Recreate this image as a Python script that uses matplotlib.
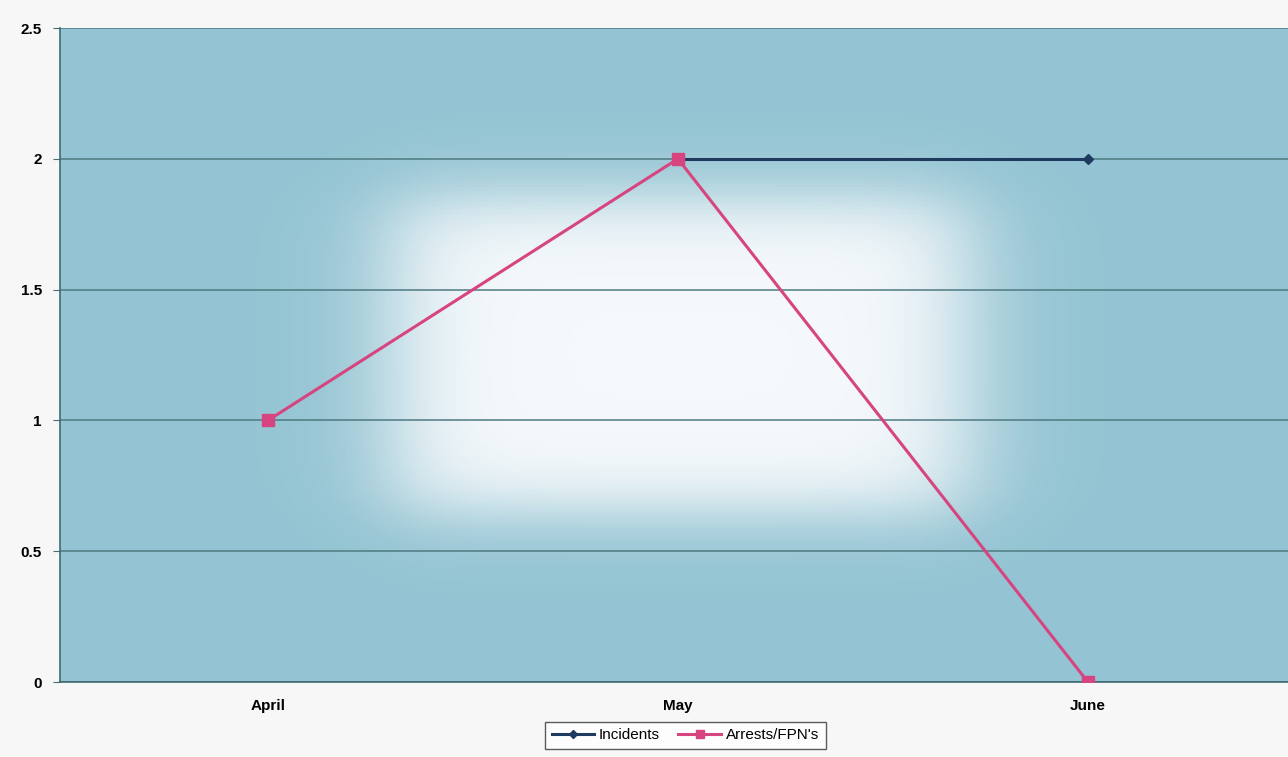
import numpy as np
import matplotlib
matplotlib.use("Agg")
import matplotlib.pyplot as plt
from matplotlib.colors import LinearSegmentedColormap

months = ["April", "May", "June"]
incidents = [np.nan, 2, 2]
arrests = [1, 2, 0]
yticks = [0, 0.5, 1, 1.5, 2, 2.5]
ytick_labels = ["0", "0.5", "1", "1.5", "2", "2.5"]

plt.rcParams['font.family'] = ['Liberation Sans', 'DejaVu Sans']

fig = plt.figure(figsize=(12.88, 7.57), dpi=100)
fig.patch.set_facecolor('#f7f7f8')
ax = fig.add_axes([0.0466, 0.099, 0.9534, 0.864])

# background gradient (blue with white glow in the centre)
ny, nx = 200, 400
xs = np.linspace(0, 1, nx)
ys = np.linspace(0, 1, ny)
def smoothbox(t, a, b, w):
    return 1 / (1 + np.exp(-(t - a) / w)) * 1 / (1 + np.exp((t - b) / w))
gx = smoothbox(xs, 0.27, 0.74, 0.025)
gy = smoothbox(ys, 0.26, 0.74, 0.03)
glow = np.outer(gy, gx)
cmap = LinearSegmentedColormap.from_list('bg', ['#94c4d3', '#f6f9fb'])
ax.imshow(glow, extent=[0, 1, 0, 1], transform=ax.transAxes, cmap=cmap,
          vmin=0, vmax=1, aspect='auto', zorder=0, origin='lower')

x = np.arange(len(months))
ax.plot(x, incidents, color='#1f3a5f', lw=2.2, marker='D', ms=5, zorder=3, label='Incidents')
ax.plot(x, arrests, color='#d6457f', lw=2.2, marker='s', ms=8, zorder=4, label="Arrests/FPN's")

ax.set_xlim(-0.507, 2.488)
ax.set_ylim(0, 2.5)
ax.set_xticks(x)
ax.set_xticklabels(months, fontsize=11, fontweight='bold')
ax.set_yticks(yticks)
ax.set_yticklabels(ytick_labels, fontsize=11, fontweight='bold')
ax.tick_params(axis='x', length=0, pad=12)
ax.tick_params(axis='y', length=5, color='#4a6a70', pad=8)
ax.grid(axis='y', color='#4f7a82', lw=1.1, zorder=1)
ax.set_axisbelow(True)
for s in ['top', 'right']:
    ax.spines[s].set_visible(False)
for s in ['left', 'bottom']:
    ax.spines[s].set_color('#3f6a70')
    ax.spines[s].set_linewidth(1.2)

leg = fig.legend(loc='lower center', bbox_to_anchor=(0.532, 0.0), ncol=2, frameon=True,
                 fancybox=False, edgecolor='#333333', fontsize=11, handlelength=2.8,
                 columnspacing=1.2, handletextpad=0.3, borderpad=0.45, markerscale=0.8)
leg.get_frame().set_linewidth(1.0)

fig.savefig('out.png', dpi=100, facecolor=fig.get_facecolor())
